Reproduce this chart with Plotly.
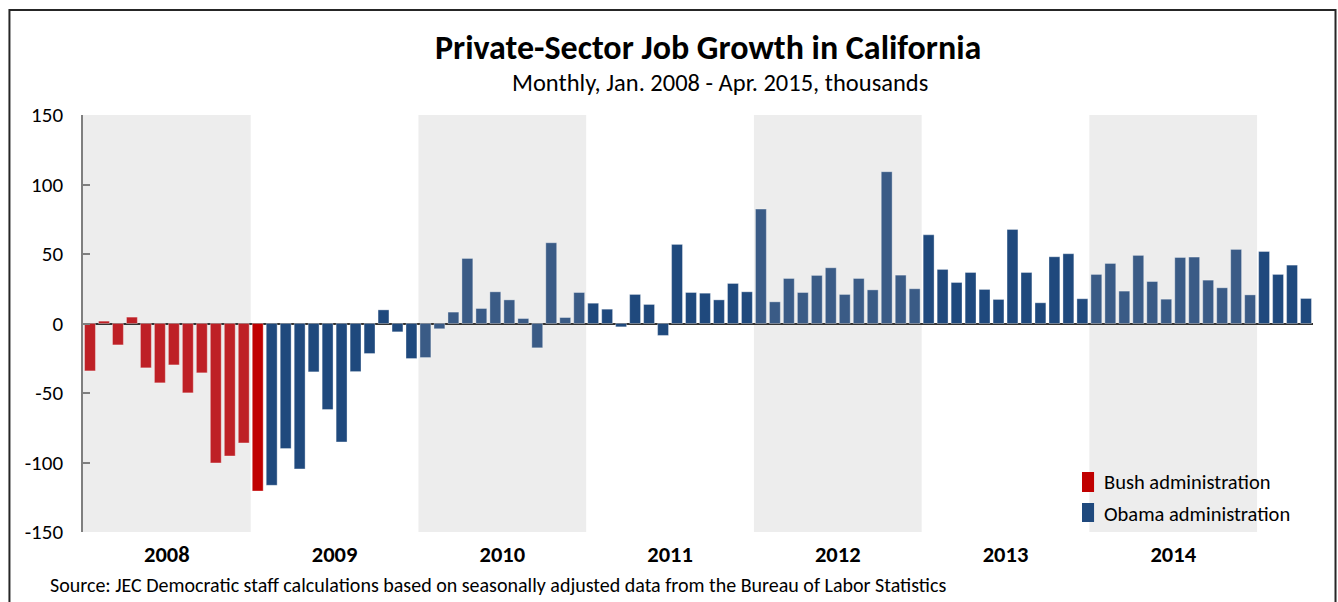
import plotly.graph_objects as go

# Monthly private-sector job change in California, thousands (Jan 2008 - Apr 2015)
jobs_2008 = [-34.1, 1.7, -15.4, 4.6, -31.9, -42.7, -29.8, -49.9, -35.5, -100.3, -95.3, -85.9]
jobs_2009 = [-120.5, -116.4, -90.0, -104.6, -34.8, -61.9, -85.2, -34.6, -21.6, 9.8, -6.0, -25.2]
jobs_2010 = [-24.5, -3.8, 8.2, 46.8, 10.8, 22.8, 17.0, 3.6, -17.5, 58.1, 4.3, 22.3]
jobs_2011 = [14.6, 10.3, -2.4, 20.9, 13.7, -8.6, 56.9, 22.3, 21.8, 17.0, 28.8, 22.8]
jobs_2012 = [82.3, 15.6, 32.4, 22.3, 34.6, 40.1, 20.9, 32.4, 24.2, 109.2, 34.8, 25.0]
jobs_2013 = [63.8, 38.9, 29.5, 36.7, 24.5, 17.3, 67.7, 36.7, 14.9, 48.0, 50.2, 17.8]
jobs_2014 = [35.3, 43.2, 23.3, 49.0, 30.2, 17.5, 47.5, 47.8, 31.2, 25.7, 53.3, 20.6]
jobs_2015 = [51.8, 35.3, 42.0, 18.0]

year_labels = ["2008", "2009", "2010", "2011", "2012", "2013", "2014"]
y_ticks = [-150, -100, -50, 0, 50, 100, 150]
y_tick_text = ["-150", "-100", "-50", "0", "50", "100", "150"]
bush_months = 13  # Jan 2008 - Jan 2009
series_names = ["Bush administration", "Obama administration"]

values = jobs_2008 + jobs_2009 + jobs_2010 + jobs_2011 + jobs_2012 + jobs_2013 + jobs_2014 + jobs_2015
idx = list(range(len(values)))

RED_SHADED = "#BE2026"
RED = "#C00000"
BLUE = "#1F497D"
BLUE_SHADED = "#3A5B86"


def bar_color(i):
    shaded = (i // 12) % 2 == 0
    if i < bush_months:
        return RED_SHADED if shaded else RED
    return BLUE_SHADED if shaded else BLUE


FONT = "Carlito, Lato, sans-serif"

fig = go.Figure()
fig.add_trace(go.Bar(
    x=idx[:bush_months], y=values[:bush_months], name=series_names[0],
    marker=dict(color=[bar_color(i) for i in idx[:bush_months]],
                line=dict(color="rgba(255,255,255,0.35)", width=1)),
    width=0.78, showlegend=False,
))
fig.add_trace(go.Bar(
    x=idx[bush_months:], y=values[bush_months:], name=series_names[1],
    marker=dict(color=[bar_color(i) for i in idx[bush_months:]],
                line=dict(color="rgba(255,255,255,0.35)", width=1)),
    width=0.78, showlegend=False,
))

shapes = []
for k in range(0, len(year_labels), 2):
    shapes.append(dict(type="rect", xref="x", yref="paper",
                       x0=12 * k - 0.5, x1=12 * k + 11.5, y0=0, y1=1,
                       fillcolor="#EDEDED", line=dict(width=0), layer="below"))
# outer frame
shapes.append(dict(type="rect", xref="paper", yref="paper",
                   x0=-0.0598, x1=1.0183, y0=-0.25, y1=1.2518,
                   line=dict(color="#262626", width=2), layer="above"))
# legend swatches
shapes.append(dict(type="rect", xref="paper", yref="paper",
                   x0=0.8122, x1=0.8220, y0=0.0959, y1=0.1439,
                   fillcolor=RED, line=dict(width=0)))
shapes.append(dict(type="rect", xref="paper", yref="paper",
                   x0=0.8122, x1=0.8220, y0=0.024, y1=0.0695,
                   fillcolor=BLUE, line=dict(width=0)))

annotations = [
    dict(text="<b>Private-Sector Job Growth in California</b>", xref="paper", yref="paper",
         x=0.508, y=1.161, xanchor="center", yanchor="middle", showarrow=False,
         font=dict(family=FONT, size=34, color="#000")),
    dict(text="Monthly, Jan. 2008 - Apr. 2015, thousands", xref="paper", yref="paper",
         x=0.518, y=1.077, xanchor="center", yanchor="middle", showarrow=False,
         font=dict(family=FONT, size=24.5, color="#000")),
    dict(text="Source: JEC Democratic staff calculations based on seasonally adjusted data from the Bureau of Labor Statistics",
         xref="paper", yref="paper", x=-0.0285, y=-0.127, xanchor="left", yanchor="middle",
         showarrow=False, font=dict(family=FONT, size=20, color="#000")),
    dict(text=series_names[0], xref="paper", yref="paper", x=0.8285, y=0.1199,
         xanchor="left", yanchor="middle", showarrow=False,
         font=dict(family=FONT, size=20.5, color="#000")),
    dict(text=series_names[1], xref="paper", yref="paper", x=0.8285, y=0.042,
         xanchor="left", yanchor="middle", showarrow=False,
         font=dict(family=FONT, size=20.5, color="#000")),
]

fig.update_layout(
    width=1338, height=602,
    margin=dict(l=83, r=25, t=115, b=70),
    paper_bgcolor="white", plot_bgcolor="white",
    bargap=0.2,
    shapes=shapes, annotations=annotations,
    font=dict(family=FONT, color="#000"),
    xaxis=dict(range=[-0.5, len(values) - 0.5], showgrid=False, zeroline=False,
               showline=False, ticks="",
               tickvals=[12 * k + 5.5 for k in range(len(year_labels))],
               ticktext=["<b>%s</b>" % y for y in year_labels],
               tickfont=dict(family=FONT, size=22.5, color="#000"),
               ticklabelstandoff=6),
    yaxis=dict(range=[-150, 150], showgrid=False,
               tickvals=y_ticks, ticktext=y_tick_text,
               zeroline=True, zerolinecolor="#333333", zerolinewidth=2,
               showline=True, linecolor="#7F7F7F", linewidth=1.5,
               ticks="inside", ticklen=7, tickcolor="#7F7F7F", tickwidth=1.5,
               tickfont=dict(family=FONT, size=21, color="#000"),
               ticklabelstandoff=14),
)

fig.write_html("out.html", config={"displayModeBar": False},
               post_script="document.body.style.margin='0';")
